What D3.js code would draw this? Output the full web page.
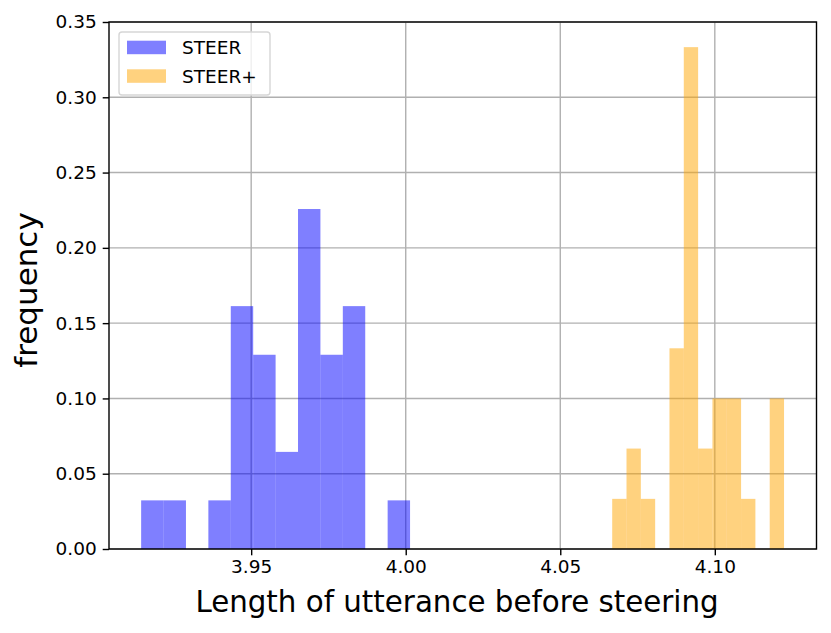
<!DOCTYPE html>
<html>
<head>
<meta charset="utf-8">
<script src="https://cdn.jsdelivr.net/npm/d3@7"></script>
<style>
  body { margin: 0; background: #fff; }
  text { font-family: "DejaVu Sans", sans-serif; }
</style>
</head>
<body>
<svg width="831" height="633"></svg>
<script>
// histogram data
const steerStart = 3.9144;
const steerBinWidth = 0.00725;
const steerFreq = [0.0323, 0.0323, 0, 0.0323, 0.1613, 0.1290, 0.0645, 0.2258, 0.1290, 0.1613, 0, 0.0323];

const plusStart = 4.0668;
const plusBinWidth = 0.004633;
const plusFreq = [0.0333, 0.0667, 0.0333, 0, 0.1333, 0.3333, 0.0667, 0.1, 0.1, 0.0333, 0, 0.1];

const xTicks = [3.95, 4.00, 4.05, 4.10];
const yTicks = [0, 0.05, 0.10, 0.15, 0.20, 0.25, 0.30, 0.35];
const seriesNames = ['STEER', 'STEER+'];

const svg = d3.select('svg');
const margin = { left: 109, right: 831 - 816.5, top: 22, bottom: 633 - 549 };
const width = +svg.attr('width');
const height = +svg.attr('height');

const x = d3.scaleLinear()
    .domain([3.9040, 4.1329])
    .range([margin.left, width - margin.right]);

const y = d3.scaleLinear()
    .domain([0, 0.35])
    .range([height - margin.bottom, margin.top]);

const gridColor = '#b0b0b0';

// grid
svg.append('g')
    .selectAll('line')
    .data(xTicks)
    .join('line')
    .attr('x1', d => x(d)).attr('x2', d => x(d))
    .attr('y1', y(0)).attr('y2', y(0.35))
    .attr('stroke', gridColor)
    .attr('stroke-width', 1.4)

svg.append('g')
    .selectAll('line')
    .data(yTicks)
    .join('line')
    .attr('x1', x.range()[0]).attr('x2', x.range()[1])
    .attr('y1', d => y(d)).attr('y2', d => y(d))
    .attr('stroke', gridColor)
    .attr('stroke-width', 1.4)

// bars
const series = [
    { start: steerStart, w: steerBinWidth, freq: steerFreq, color: 'rgba(0,0,255,0.5)' },
    { start: plusStart, w: plusBinWidth, freq: plusFreq, color: 'rgba(255,165,0,0.5)' }
];

series.forEach(s => {
    svg.append('g')
        .selectAll('rect')
        .data(s.freq.map((f, i) => ({ x0: s.start + i * s.w, x1: s.start + (i + 1) * s.w, f })))
        .join('rect')
        .attr('x', d => x(d.x0))
        .attr('width', d => x(d.x1) - x(d.x0))
        .attr('y', d => y(d.f))
        .attr('height', d => y(0) - y(d.f))
        .attr('fill', s.color)
});

// axes
const xAxis = svg.append('g')
    .attr('transform', `translate(0, ${ y(0) })`)
    .call(d3.axisBottom(x).tickValues(xTicks).tickFormat(d3.format('.2f')).tickSize(6.3).tickPadding(5))

const yAxis = svg.append('g')
    .attr('transform', `translate(${ x.range()[0] }, 0)`)
    .call(d3.axisLeft(y).tickValues(yTicks).tickFormat(d3.format('.2f')).tickSize(6.3).tickPadding(6))

;[xAxis, yAxis].forEach(a => {
    a.select('.domain').remove();
    a.selectAll('line').attr('stroke', '#000').attr('stroke-width', 1.4);
    a.selectAll('text').attr('font-size', 18.5).attr('fill', '#000')
        .attr('font-family', '"DejaVu Sans", sans-serif');
});

// frame
svg.append('rect')
    .attr('x', x.range()[0])
    .attr('y', y(0.35))
    .attr('width', x.range()[1] - x.range()[0])
    .attr('height', y(0) - y(0.35))
    .attr('fill', 'none')
    .attr('stroke', '#000')
    .attr('stroke-width', 1.4)

// labels
svg.append('text')
    .attr('x', 457)
    .attr('y', 612)
    .attr('text-anchor', 'middle')
    .attr('font-size', 29.3)
    .text('Length of utterance before steering')

svg.append('text')
    .attr('transform', `translate(37, 290) rotate(-90)`)
    .attr('text-anchor', 'middle')
    .attr('font-size', 31)
    .text('frequency')

// legend
const legend = svg.append('g')
    .attr('transform', 'translate(119, 32)')

legend.append('rect')
    .attr('width', 151)
    .attr('height', 63)
    .attr('rx', 3)
    .attr('fill', 'rgba(255,255,255,0.8)')
    .attr('stroke', '#d6d6d6')
    .attr('stroke-width', 1.4)

legend.selectAll('g.item')
    .data(seriesNames)
    .join('g')
    .attr('class', 'item')
    .attr('transform', (d, i) => `translate(8, ${ 8.7 + i * 28.6 })`)
    .each(function (d, i) {
        const item = d3.select(this);
        item.append('rect')
            .attr('width', 39)
            .attr('height', 13.5)
            .attr('fill', series[i].color)
        item.append('text')
            .attr('x', 55)
            .attr('y', 13.3)
            .attr('font-size', 18.5)
            .text(d)
    })
</script>
</body>
</html>
